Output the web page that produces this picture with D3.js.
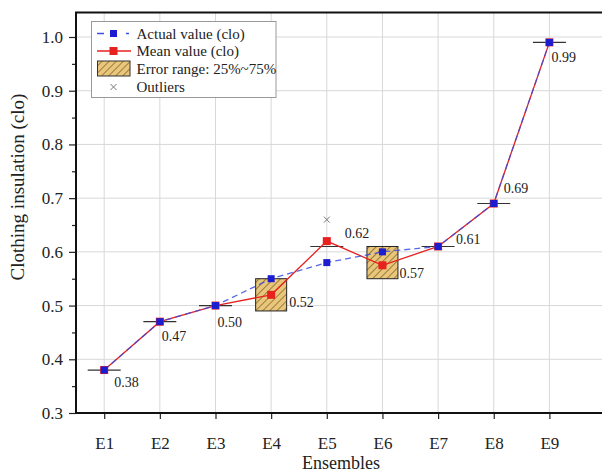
<!DOCTYPE html>
<html>
<head>
<meta charset="utf-8">
<script src="https://cdn.jsdelivr.net/npm/d3@7/dist/d3.min.js"></script>
<style>
  html, body { margin: 0; padding: 0; background: #fff; }
  svg { display: block; }
  svg text { font-family: "Liberation Serif", "Times New Roman", Times, "DejaVu Serif", serif !important; fill: #222; }
</style>
</head>
<body>
<svg id="chart" width="602" height="473" style="font-family: 'Liberation Serif', 'Times New Roman', serif;"></svg>
<script>
// ---------- data ----------
const categories = ["E1", "E2", "E3", "E4", "E5", "E6", "E7", "E8", "E9"];
const actualValues = [0.38, 0.47, 0.50, 0.55, 0.58, 0.60, 0.61, 0.69, 0.99];
const meanValues   = [0.38, 0.47, 0.50, 0.52, 0.62, 0.575, 0.61, 0.69, 0.99];
const meanLabels   = ["0.38", "0.47", "0.50", "0.52", "0.62", "0.57", "0.61", "0.69", "0.99"];
const boxLow       = [0.38, 0.47, 0.50, 0.49, 0.61, 0.55, 0.61, 0.69, 0.99];
const boxHigh      = [0.38, 0.47, 0.50, 0.55, 0.61, 0.61, 0.61, 0.69, 0.99];
const outliers     = [{ cat: "E5", value: 0.66 }];
const yTicks       = [0.3, 0.4, 0.5, 0.6, 0.7, 0.8, 0.9, 1.0];
const yMinorTicks  = [0.35, 0.45, 0.55, 0.65, 0.75, 0.85, 0.95];
const legendItems  = ["Actual value (clo)", "Mean value (clo)", "Error range: 25%~75%", "Outliers"];

// ---------- layout (positions / styles) ----------
const FONT = "Liberation Serif, Times New Roman, serif";
const plotLeft = 76, plotRight = 602, plotTop = 12.5, plotBottom = 413;
const labelOffsets = [[10, 12], [2, 15], [2, 17], [18, 7], [18, -8], [17, 8], [18, -7], [10, -15], [2, 15]];
const boxWidth = 31;
const blue = "#1c1cd0", red = "#e8201e";

const svg = d3.select("#chart");

const x = d3.scalePoint().domain(categories).range([104.2, 549.4]);
const y = d3.scaleLinear().domain([0.3, 1.0]).range([plotBottom, 37]);

// hatch pattern
const defs = svg.append("defs");
const pat = defs.append("pattern")
  .attr("id", "hatch").attr("patternUnits", "userSpaceOnUse")
  .attr("width", 5).attr("height", 5)
  .attr("patternTransform", "rotate(45)");
pat.append("rect").attr("width", 5).attr("height", 5).attr("fill", "#e9c67a");
pat.append("line").attr("x1", 0).attr("y1", 0).attr("x2", 0).attr("y2", 5)
  .attr("stroke", "#6b5424").attr("stroke-width", 1.3);

// grid
const grid = svg.append("g");
grid.selectAll("line.v").data(categories).join("line")
  .attr("x1", d => x(d)).attr("x2", d => x(d))
  .attr("y1", plotTop).attr("y2", plotBottom)
  .attr("stroke", "#d8d8d8").attr("stroke-width", 1);
grid.selectAll("line.h").data(yTicks.slice(1)).join("line")
  .attr("x1", plotLeft).attr("x2", plotRight)
  .attr("y1", d => y(d)).attr("y2", d => y(d))
  .attr("stroke", "#d8d8d8").attr("stroke-width", 1);

// boxes / collapsed boxes
const boxData = categories.map((c, i) => ({ c, lo: boxLow[i], hi: boxHigh[i] }));
svg.append("g").selectAll("rect").data(boxData.filter(d => d.hi > d.lo)).join("rect")
  .attr("x", d => x(d.c) - boxWidth / 2).attr("width", boxWidth)
  .attr("y", d => y(d.hi)).attr("height", d => y(d.lo) - y(d.hi))
  .attr("fill", "url(#hatch)").attr("stroke", "#222").attr("stroke-width", 1);
svg.append("g").selectAll("line").data(boxData.filter(d => d.hi === d.lo)).join("line")
  .attr("x1", d => x(d.c) - boxWidth / 2 - 1).attr("x2", d => x(d.c) + boxWidth / 2 + 1)
  .attr("y1", d => y(d.hi)).attr("y2", d => y(d.hi))
  .attr("stroke", "#333").attr("stroke-width", 1.2);

// outliers
const xs = 3;
svg.append("g").selectAll("path").data(outliers).join("path")
  .attr("d", d => {
    const cx = x(d.cat), cy = y(d.value);
    return `M${cx - xs},${cy - xs}L${cx + xs},${cy + xs}M${cx - xs},${cy + xs}L${cx + xs},${cy - xs}`;
  })
  .attr("stroke", "#777").attr("stroke-width", 1);

// mean line (red)
const meanPts = categories.map((c, i) => [x(c), y(meanValues[i])]);
const actualPts = categories.map((c, i) => [x(c), y(actualValues[i])]);
const line = d3.line();
svg.append("path").attr("d", line(meanPts))
  .attr("fill", "none").attr("stroke", red).attr("stroke-width", 1.3);
svg.append("g").selectAll("rect").data(meanPts).join("rect")
  .attr("x", d => d[0] - 4).attr("y", d => d[1] - 4)
  .attr("width", 8).attr("height", 8).attr("fill", red);

// actual line (blue dashed)
svg.append("path").attr("d", line(actualPts))
  .attr("fill", "none").attr("stroke", "#3a4ee0").attr("stroke-width", 1.3)
  .attr("stroke-dasharray", "6,4").attr("opacity", 0.85);
svg.append("g").selectAll("rect").data(actualPts).join("rect")
  .attr("x", d => d[0] - 3.5).attr("y", d => d[1] - 3.5)
  .attr("width", 7).attr("height", 7).attr("fill", blue);

// data labels
svg.append("g").selectAll("text").data(meanPts).join("text")
  .attr("x", (d, i) => d[0] + labelOffsets[i][0])
  .attr("y", (d, i) => d[1] + labelOffsets[i][1] + 4.8)
  .attr("font-size", 14).attr("font-family", FONT)
  .text((d, i) => meanLabels[i]);

// axes
const yAxis = svg.append("g").attr("transform", `translate(${plotLeft},0)`)
  .call(d3.axisLeft(y).tickValues(yTicks).tickFormat(d3.format(".1f")).tickSize(7).tickPadding(6));
yAxis.attr("font-family", FONT);
yAxis.select(".domain").remove();
yAxis.selectAll("text").attr("font-size", 17).attr("font-family", FONT);
yAxis.selectAll("line").attr("stroke", "#222").attr("stroke-width", 1.2);
const yMinor = svg.append("g").attr("transform", `translate(${plotLeft},0)`)
  .call(d3.axisLeft(y).tickValues(yMinorTicks).tickSize(4).tickFormat(""));
yMinor.select(".domain").remove();
yMinor.selectAll("line").attr("stroke", "#222").attr("stroke-width", 1.2);

const xAxis = svg.append("g").attr("transform", `translate(0,${plotBottom})`)
  .call(d3.axisBottom(x).tickSize(6).tickPadding(6));
xAxis.attr("font-family", FONT);
xAxis.select(".domain").remove();
xAxis.selectAll("text").attr("font-size", 17).attr("font-family", FONT)
  .attr("dy", 0).attr("y", 35.5);
xAxis.selectAll("line").attr("stroke", "#222").attr("stroke-width", 1.2);

// frame
svg.append("path")
  .attr("d", `M${plotRight + 2},${plotTop}H${plotLeft}V${plotBottom}H${plotRight + 2}`)
  .attr("fill", "none").attr("stroke", "#111").attr("stroke-width", 2);

// axis titles
svg.append("text").attr("x", 341).attr("y", 469).attr("text-anchor", "middle")
  .attr("font-size", 18).attr("font-family", FONT).text("Ensembles");
svg.append("text").attr("transform", "translate(24,187) rotate(-90)")
  .attr("text-anchor", "middle").attr("font-size", 19).attr("font-family", FONT)
  .text("Clothing insulation (clo)");

// legend
const lg = svg.append("g");
lg.append("rect").attr("x", 91.5).attr("y", 21.5).attr("width", 184.5).attr("height", 76)
  .attr("fill", "#fff").attr("stroke", "#999").attr("stroke-width", 1);
const rowY = [33.5, 51, 68.5, 87];
const symX = 113.5, textX = 136.5;
// actual
lg.append("line").attr("x1", 97).attr("x2", 104).attr("y1", rowY[0]).attr("y2", rowY[0])
  .attr("stroke", "#3a4ee0").attr("stroke-width", 1.5);
lg.append("line").attr("x1", 126).attr("x2", 129).attr("y1", rowY[0]).attr("y2", rowY[0])
  .attr("stroke", "#3a4ee0").attr("stroke-width", 1.5);
lg.append("rect").attr("x", symX - 3.5).attr("y", rowY[0] - 3.5).attr("width", 7).attr("height", 7).attr("fill", blue);
// mean
lg.append("line").attr("x1", 97).attr("x2", 131).attr("y1", rowY[1]).attr("y2", rowY[1])
  .attr("stroke", red).attr("stroke-width", 1.3);
lg.append("rect").attr("x", symX - 4).attr("y", rowY[1] - 4).attr("width", 8).attr("height", 8).attr("fill", red);
// error range
lg.append("rect").attr("x", 97.5).attr("y", rowY[2] - 7.5).attr("width", 32.5).attr("height", 15)
  .attr("fill", "url(#hatch)").attr("stroke", "#333").attr("stroke-width", 1);
// outliers
lg.append("path")
  .attr("d", `M${symX - 3},${rowY[3] - 3}L${symX + 3},${rowY[3] + 3}M${symX - 3},${rowY[3] + 3}L${symX + 3},${rowY[3] - 3}`)
  .attr("stroke", "#777").attr("stroke-width", 1);
lg.selectAll("text.lt").data(legendItems).join("text")
  .attr("x", textX).attr("y", (d, i) => rowY[i] + 5)
  .attr("font-size", 15).attr("font-family", FONT).text(d => d);
</script>
</body>
</html>
